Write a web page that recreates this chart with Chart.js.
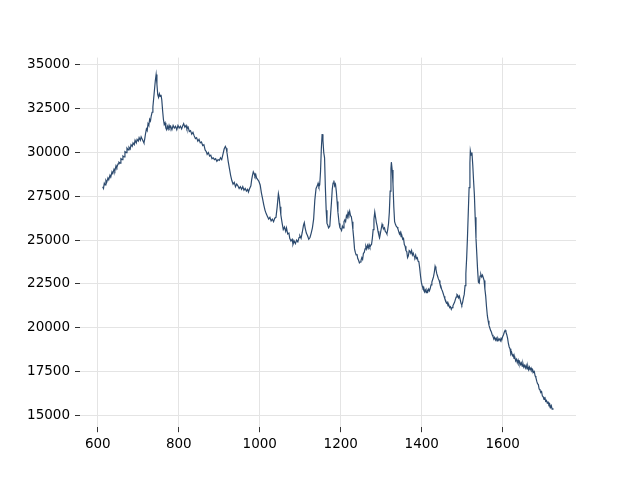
<!DOCTYPE html>
<html>
<head>
<meta charset="utf-8">
<script src="https://cdn.jsdelivr.net/npm/chart.js@4.4.0/dist/chart.umd.min.js"></script>
<style>
  html, body { margin: 0; padding: 0; background: #fff; }
  #wrap { width: 640px; height: 480px; }
</style>
</head>
<body>
<div id="wrap"><canvas id="spectrum" width="640" height="480"></canvas></div>
<script>
// wavenumber (x) and intensity (y)
const wavenumber = [
  612,614,616,618,620,622,625,627,630,632,635,637,640,642,645,647,650,652,655,657,
  660,662,665,667,670,672,675,677,680,682,685,687,690,692,695,697,700,702,705,707,
  710,712,714,716,718,720,722,724,726,728,730,732,734,736,738,740,742,744,746,748,
  750,752,754,756,758,760,762,764,766,768,770,772,774,776,778,780,783,786,789,792,
  795,798,801,804,807,810,812,815,818,820,823,826,829,832,835,838,841,844,847,850,
  853,856,859,862,865,868,870,873,876,879,882,885,888,891,894,897,900,903,906,909,
  912,915,917,919,922,925,928,931,934,937,940,943,946,949,952,955,958,961,964,967,
  970,972,975,978,980,982,984,986,988,990,992,995,998,1001,1004,1007,1010,1013,1016,1019,
  1022,1025,1028,1031,1034,1037,1040,1043,1046,1048,1050,1052,1055,1058,1061,1064,1066,1069,1072,1074,
  1077,1080,1082,1085,1088,1091,1094,1097,1099,1102,1105,1108,1110,1112,1115,1118,1121,1124,1127,1130,
  1133,1136,1139,1142,1144,1146,1148,1150,1152,1154,1156,1158,1160,1162,1164,1166,1168,1170,1173,1175,
  1177,1179,1181,1183,1185,1187,1189,1191,1193,1196,1198,1200,1202,1204,1206,1208,1210,1212,1214,1216,
  1218,1220,1222,1224,1226,1228,1230,1232,1234,1236,1238,1240,1242,1244,1246,1248,1250,1252,1254,1256,
  1258,1260,1262,1264,1266,1268,1270,1272,1274,1276,1278,1280,1282,1284,1286,1288,1290,1292,1294,1296,
  1298,1300,1302,1304,1306,1308,1310,1312,1314,1316,1318,1320,1322,1324,1325,1327,1329,1331,1333,1335,
  1337,1339,1341,1343,1345,1347,1349,1351,1353,1355,1357,1359,1361,1363,1365,1367,1369,1371,1373,1375,
  1377,1379,1381,1383,1385,1387,1389,1391,1393,1395,1397,1399,1401,1403,1405,1407,1409,1411,1413,1415,
  1417,1419,1421,1423,1425,1427,1429,1431,1433,1435,1437,1439,1441,1443,1445,1447,1449,1451,1453,1455,
  1457,1459,1461,1463,1465,1467,1469,1471,1473,1475,1477,1479,1481,1483,1485,1487,1489,1491,1493,1495,
  1497,1499,1501,1503,1505,1507,1509,1511,1513,1515,1517,1519,1520,1522,1524,1526,1528,1530,1532,1534,
  1536,1538,1540,1542,1544,1546,1548,1550,1552,1554,1556,1558,1560,1562,1564,1566,1568,1570,1572,1574,
  1576,1578,1580,1582,1584,1586,1588,1590,1592,1594,1596,1598,1600,1602,1604,1606,1608,1610,1612,1614,
  1616,1618,1620,1622,1624,1626,1628,1630,1632,1634,1636,1638,1640,1642,1644,1646,1648,1650,1652,1654,
  1656,1658,1660,1662,1664,1666,1668,1670,1672,1674,1676,1678,1680,1682,1684,1686,1688,1690,1692,1694,
  1696,1698,1700,1702,1704,1706,1708,1710,1712,1714,1716,1718,1720,1722,1724
];
const intensity = [
  28050,27950,28250,28150,28400,28300,28550,28450,28700,28600,28900,28800,29050,28950,29250,29150,29350,29450,29400,29650,
  29600,29800,29750,30050,30000,30250,30150,30300,30200,30450,30350,30550,30450,30700,30550,30750,30650,30850,30700,30900,
  30750,30650,30550,30800,31100,31350,31250,31650,31550,31900,31800,32100,32300,32600,33100,33600,34100,34450,33900,33300,
  33150,33350,33200,33300,33000,32400,31900,31600,31700,31400,31300,31500,31350,31550,31400,31500,31300,31550,31400,31500,
  31300,31550,31400,31500,31350,31550,31650,31450,31550,31350,31450,31200,31250,31050,31150,30950,30800,30850,30650,30750,
  30550,30600,30400,30450,30150,30050,29900,30000,29800,29850,29650,29700,29600,29650,29500,29600,29550,29700,29600,29900,
  30200,30350,30250,30000,29500,29100,28700,28400,28200,28300,28050,28200,28100,27950,28050,27900,28050,27850,27950,27800,
  27900,27750,27950,28100,28450,28700,28900,28800,28650,28750,28550,28450,28350,28150,27700,27350,27000,26700,26500,26350,
  26200,26300,26100,26200,26050,26250,26300,26900,27650,27400,26900,26450,26000,25600,25750,25500,25700,25350,25400,25100,
  24950,25050,24750,24950,24800,25000,24900,25150,25250,25100,25450,25850,26000,25700,25400,25250,25050,25150,25400,25700,
  26200,27300,27950,28100,28250,28050,28150,28900,30200,31050,30700,30000,29700,28000,26700,25950,25850,25700,25800,26500,
  27150,27900,28250,28400,28100,28200,27800,27200,26600,25950,25700,25650,25550,25800,25700,26050,26150,26050,26400,26300,
  26600,26450,26650,26400,26350,26050,25600,25100,24500,24300,24150,24200,23950,23850,23700,23750,23850,24000,23900,24250,
  24300,24500,24650,24500,24700,24550,24750,24600,24700,24750,25100,25600,26200,26600,26300,26000,25800,25500,25300,25150,
  25400,25650,25900,25750,25650,25700,25500,25450,25350,25600,25950,26600,27800,29100,29450,29000,28200,26900,26050,25900,
  25800,25750,25650,25500,25350,25450,25200,25250,25050,25100,24750,24650,24400,24350,24000,24100,24400,24350,24250,24400,
  24150,24250,24100,24000,24150,23950,24000,23800,23750,23400,22950,22600,22400,22250,22300,22050,22150,22000,22150,22050,
  22200,22100,22250,22450,22600,22750,22900,23150,23500,23350,23100,22950,22800,22700,22500,22400,22200,22100,21950,21800,
  21650,21550,21400,21450,21250,21300,21150,21200,21050,21150,21250,21350,21450,21600,21750,21900,21850,21700,21800,21600,
  21400,21300,21450,21700,21900,22400,23100,24000,25200,26600,28000,29400,30100,29850,30000,29300,28400,27600,26300,25100,
  24200,23300,22600,22550,22950,23050,22900,23000,22850,22700,22200,21800,21200,20700,20400,20150,20000,19850,19750,19600,
  19500,19350,19450,19300,19400,19250,19400,19300,19350,19250,19400,19350,19500,19600,19750,19850,19750,19600,19400,19100,
  18900,18800,18500,18600,18400,18450,18250,18300,18100,18200,18000,18150,17950,18050,17900,18000,17800,17950,17750,17850,
  17700,17850,17650,17800,17600,17750,17600,17700,17550,17600,17450,17500,17250,17150,16950,16800,16750,16500,16450,16300,
  16350,16100,16050,15900,16050,15800,15850,15700,15750,15600,15650,15450,15550,15350,15400
];
const xTicks = [600, 800, 1000, 1200, 1400, 1600];
const yTicks = [15000, 17500, 20000, 22500, 25000, 27500, 30000, 32500, 35000];

const points = wavenumber.map((x, i) => ({ x: x, y: intensity[i] }));
const tickFont = { family: 'DejaVu Sans', size: 13.5 };

new Chart(document.getElementById('spectrum').getContext('2d'), {
  type: 'line',
  data: {
    datasets: [{
      data: points,
      borderColor: '#2c4a6e',
      borderWidth: 1.2,
      pointRadius: 0,
      tension: 0,
      fill: false
    }]
  },
  options: {
    responsive: false,
    animation: false,
    layout: { padding: { left: 0, right: 64, top: 57.6, bottom: 0 } },
    plugins: { legend: { display: false }, tooltip: { enabled: false } },
    scales: {
      x: {
        type: 'linear',
        min: 556,
        max: 1781,
        afterBuildTicks: s => { s.ticks = xTicks.map(v => ({ value: v })); },
        afterFit: s => { s.height = 52.8; },
        border: { display: false },
        grid: { color: '#e4e4e4', lineWidth: 1, tickColor: '#333', tickLength: 5 },
        ticks: { color: '#000', font: tickFont, padding: 4, maxRotation: 0, callback: v => String(v) }
      },
      y: {
        type: 'linear',
        min: 14320,
        max: 35420,
        afterBuildTicks: s => { s.ticks = yTicks.map(v => ({ value: v })); },
        afterFit: s => { s.width = 80; },
        border: { display: false },
        grid: { color: '#e4e4e4', lineWidth: 1, tickColor: '#333', tickLength: 5 },
        ticks: { color: '#000', font: tickFont, padding: 5, callback: v => String(v) }
      }
    }
  }
});
</script>
</body>
</html>
